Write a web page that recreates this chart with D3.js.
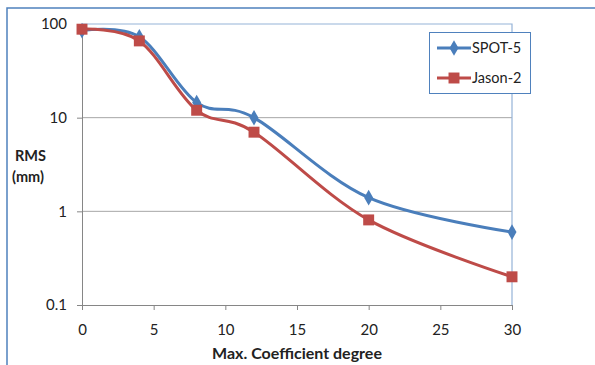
<!DOCTYPE html>
<html>
<head>
<meta charset="utf-8">
<script src="https://cdn.jsdelivr.net/npm/d3@7"></script>
<style>
  body { margin: 0; background: #fff; }
  svg text { font-family: Lato, "Open Sans", sans-serif; fill: #222; }
</style>
</head>
<body>
<div id="chart" style="width:595px;height:365px"></div>
<script>
const degrees = [0, 4, 8, 12, 20, 30];
const spot5 = [85, 73, 14.5, 10, 1.4, 0.6];
const jason2 = [88, 66, 12, 7, 0.81, 0.2];
const xTicks = [0, 5, 10, 15, 20, 25, 30];
const yTicks = [0.1, 1, 10, 100];

const svg = d3.select("#chart").append("svg")
    .attr("width", 595).attr("height", 365);

// chart frame (only left/top edges are inside the picture)
svg.append("path")
    .attr("d", "M7,370 V8 H600")
    .attr("fill", "none")
    .attr("stroke", "#4f81bd")
    .attr("stroke-width", 1.5);

const margin = {top: 24, left: 82, right: 512, bottom: 305};

const x = d3.scaleLinear().domain([0, 30]).range([margin.left, margin.right]);
const y = d3.scaleLog().domain([0.1, 100]).range([margin.bottom, margin.top]);

// gridlines
svg.append("g").selectAll("line")
    .data(yTicks.filter(d => d > 0.1 && d < 100))
    .join("line")
      .attr("x1", margin.left).attr("x2", margin.right)
      .attr("y1", d => y(d)).attr("y2", d => y(d))
      .attr("stroke", "#a6a6a6").attr("stroke-width", 1);

// plot area border top + right
svg.append("path")
    .attr("d", `M${margin.left},${y(100)} H${margin.right} V${margin.bottom}`)
    .attr("fill", "none")
    .attr("stroke", "#95b3d7")
    .attr("stroke-width", 1.2);

// Y axis
const yAxis = svg.append("g")
    .attr("transform", `translate(${margin.left},0)`)
    .call(d3.axisLeft(y).tickValues(yTicks).tickFormat(d => String(d)).tickSize(5).tickPadding(10));
yAxis.select(".domain").attr("stroke", "#868686");
yAxis.selectAll(".tick line").attr("stroke", "#868686");
yAxis.selectAll("text").style("font-size", "15px").attr("fill", "#222");

// X axis
const xAxis = svg.append("g")
    .attr("transform", `translate(0,${margin.bottom})`)
    .call(d3.axisBottom(x).tickValues(xTicks).tickSize(5).tickPadding(14));
xAxis.select(".domain").attr("stroke", "#868686");
xAxis.selectAll(".tick line").attr("stroke", "#868686");
xAxis.selectAll("text").style("font-size", "15px").attr("fill", "#222");

// axis titles
svg.append("text").attr("x", 15).attr("y", 161)
    .style("font-size", "14.5px").style("font-weight", "bold").text("RMS");
svg.append("text").attr("x", 12).attr("y", 182)
    .style("font-size", "14.5px").style("font-weight", "bold").text("(mm)");
svg.append("text").attr("x", 297).attr("y", 359)
    .attr("text-anchor", "middle")
    .style("font-size", "16px").style("font-weight", "bold").text("Max. Coefficient degree");

const line = d3.line()
    .x(d => x(d[0]))
    .y(d => y(d[1]))
    .curve(d3.curveCardinal.tension(0));

const series = [
  {name: "SPOT-5", values: spot5, color: "#4a7ebb", shape: d3.symbolDiamond, size: 70},
  {name: "Jason-2", values: jason2, color: "#be4b48", shape: d3.symbolSquare, size: 120}
];

series.forEach(s => {
  const pts = degrees.map((d, i) => [d, s.values[i]]);
  svg.append("path")
      .datum(pts)
      .attr("fill", "none")
      .attr("stroke", s.color)
      .attr("stroke-width", 3)
      .attr("d", line);
  svg.append("g").selectAll("path")
      .data(pts)
      .join("path")
        .attr("transform", d => `translate(${x(d[0])},${y(d[1])})`)
        .attr("d", d3.symbol().type(s.shape).size(s.size))
        .attr("fill", s.color);
});

// legend
const legend = svg.append("g");
legend.append("rect")
    .attr("x", 429.5).attr("y", 32.5).attr("width", 101).attr("height", 61)
    .attr("fill", "#fff").attr("stroke", "#4f81bd").attr("stroke-width", 1);
series.forEach((s, i) => {
  const ly = 48 + i * 30;
  legend.append("line")
      .attr("x1", 437).attr("x2", 471).attr("y1", ly).attr("y2", ly)
      .attr("stroke", s.color).attr("stroke-width", 3);
  legend.append("path")
      .attr("transform", `translate(454,${ly})`)
      .attr("d", d3.symbol().type(s.shape).size(s.size))
      .attr("fill", s.color);
  legend.append("text")
      .attr("x", 472).attr("y", ly + 5)
      .style("font-size", "14.5px").text(s.name);
});
</script>
</body>
</html>
